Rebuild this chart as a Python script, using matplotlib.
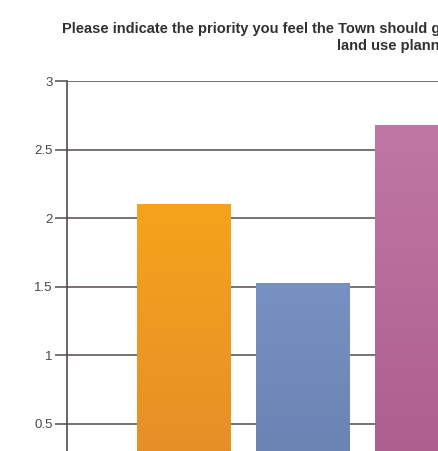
import matplotlib
matplotlib.use("Agg")
import matplotlib.pyplot as plt
import matplotlib.colors as mcolors
import numpy as np

plt.rcParams['font.family'] = ['Liberation Sans', 'DejaVu Sans']

# Data (only the visible part of the chart)
categories = ["Option A", "Option B", "Option C"]
values = [2.10, 1.53, 2.68]
top_colors = ["#f5a31c", "#7792c2", "#c077a4"]
bottom_colors = ["#e58c2a", "#6680b0", "#ab5c8c"]
yticks = [0.5, 1, 1.5, 2, 2.5, 3]
ytick_labels = ["0.5", "1", "1.5", "2", "2.5", "3"]
title_line1 = "Please indicate the priority you feel the Town should give to each of the following areas in"
title_line2 = "land use planning"

W, H = 438, 451
fig = plt.figure(figsize=(W / 100, H / 100), dpi=100)
fig.patch.set_facecolor("white")

# axes extends beyond the visible figure (reference is cropped)
ax_left_px, ax_right_px = 67, 600
ax_top_px, ax_bot_px = 81, 492.6
ax = fig.add_axes([ax_left_px / W, 1 - ax_bot_px / H,
                   (ax_right_px - ax_left_px) / W, (ax_bot_px - ax_top_px) / H])

spacing = 119.0
xmin = -0.983
ax.set_xlim(xmin, xmin + (ax_right_px - ax_left_px) / spacing)
ax.set_ylim(0, 3)

grid_color = "#524a4a"
for t in yticks:
    ax.axhline(t, color=grid_color, lw=1.1, zorder=1)

x = np.arange(len(categories))
bw = 94 / spacing
bars = ax.bar(x, values, width=bw, color="none", edgecolor="none", zorder=2)
for b, v, ct, cb in zip(bars, values, top_colors, bottom_colors):
    cmap = mcolors.LinearSegmentedColormap.from_list("g", [cb, ct])
    grad = np.linspace(0, 1, 256).reshape(-1, 1)
    x0 = b.get_x()
    im = ax.imshow(grad, cmap=cmap, aspect="auto", origin="lower",
                   extent=[x0, x0 + bw, 0, v], zorder=3, interpolation="bicubic")
    im.set_clip_path(b)
ax.set_xlim(xmin, xmin + (ax_right_px - ax_left_px) / spacing)
ax.set_ylim(0, 3)

for s in ["top", "right", "bottom"]:
    ax.spines[s].set_visible(False)
ax.spines["left"].set_color(grid_color)
ax.spines["left"].set_linewidth(1.2)
ax.spines["left"].set_zorder(4)

ax.set_yticks(yticks)
ax.set_yticklabels(ytick_labels)
ax.tick_params(axis="y", length=9, width=1.1, color=grid_color,
               labelsize=9.5, labelcolor="#4a4545", pad=1.5)
ax.set_xticks([])

fig.text(62 / W, 1 - 33 / H, title_line1, ha="left", va="baseline",
         fontsize=10.5, fontweight="bold", color="#333030")
fig.text(337 / W, 1 - 50 / H, title_line2, ha="left", va="baseline",
         fontsize=10.5, fontweight="bold", color="#333030")

fig.savefig("out.png", dpi=100, facecolor="white")
